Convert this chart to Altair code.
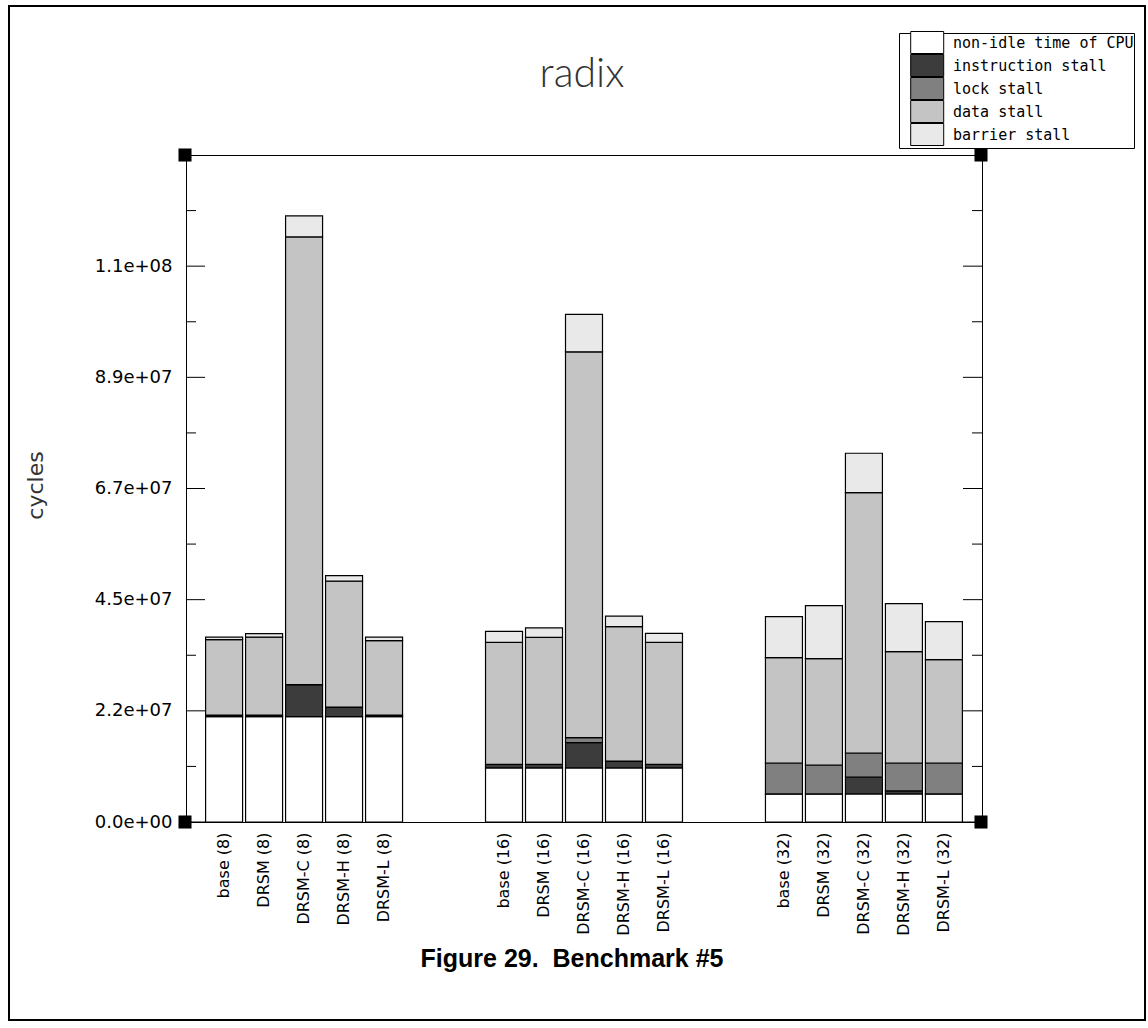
import altair as alt
import pandas as pd

# ---------------- data ----------------
categories = [
    "base (8)", "DRSM (8)", "DRSM-C (8)", "DRSM-H (8)", "DRSM-L (8)", "gap1", "gap2",
    "base (16)", "DRSM (16)", "DRSM-C (16)", "DRSM-H (16)", "DRSM-L (16)", "gap3", "gap4",
    "base (32)", "DRSM (32)", "DRSM-C (32)", "DRSM-H (32)", "DRSM-L (32)",
]
bar_names = [c for c in categories if not c.startswith("gap")]

components = ["non-idle time of CPU", "instruction stall", "lock stall", "data stall", "barrier stall"]
component_colors = ["#ffffff", "#3c3c3c", "#808080", "#c4c4c4", "#e9e9e9"]

nonidle = [2.11e7, 2.11e7, 2.11e7, 2.11e7, 2.11e7,
           1.085e7, 1.085e7, 1.085e7, 1.085e7, 1.085e7,
           0.561e7, 0.561e7, 0.561e7, 0.561e7, 0.561e7]
instr = [0.03e7, 0.03e7, 0.64e7, 0.19e7, 0.03e7,
         0.07e7, 0.07e7, 0.505e7, 0.135e7, 0.07e7,
         0.0, 0.0, 0.34e7, 0.06e7, 0.0]
lock = [0.0, 0.0, 0.0, 0.0, 0.0,
        0.0, 0.0, 0.10e7, 0.0, 0.0,
        0.62e7, 0.58e7, 0.48e7, 0.56e7, 0.62e7]
data_stall = [1.51e7, 1.56e7, 8.96e7, 2.52e7, 1.49e7,
              2.44e7, 2.54e7, 7.72e7, 2.69e7, 2.44e7,
              2.11e7, 2.13e7, 5.21e7, 2.23e7, 2.07e7]
barrier = [0.05e7, 0.07e7, 0.42e7, 0.11e7, 0.07e7,
           0.22e7, 0.19e7, 0.75e7, 0.21e7, 0.18e7,
           0.82e7, 1.06e7, 0.79e7, 0.96e7, 0.76e7]

y_max = 1.335e8
major_ticks = [0, 2.225e7, 4.45e7, 6.675e7, 8.9e7, 1.1125e8]
minor_ticks = [1.1125e7, 3.3375e7, 5.5625e7, 7.7875e7, 1.00125e8, 1.22375e8]

title_text = "radix"
y_title = "cycles"
caption_text = "Figure 29.\u00a0 Benchmark #5"

# ---------------- layout (styles) ----------------
W, H = 796, 667
FONT = "DejaVu Sans"
MONO = "DejaVu Sans Mono"

series = [nonidle, instr, lock, data_stall, barrier]
rows = []
for k, (comp, vals) in enumerate(zip(components, series)):
    for name, v in zip(bar_names, vals):
        rows.append({"cat": name, "component": comp, "k": k, "value": v})
df = pd.DataFrame(rows)

yscale = alt.Scale(domain=[0, y_max], nice=False, zero=True)

bars = alt.Chart(df).mark_bar(stroke="black", strokeWidth=1.2, opacity=1).encode(
    x=alt.X(
        "cat:N",
        sort=categories,
        scale=alt.Scale(domain=categories, paddingInner=0.075, paddingOuter=0.49),
        axis=alt.Axis(
            title=None,
            labelAngle=270,
            labelAlign="right",
            labelBaseline="middle",
            labelPadding=10,
            labelFont=FONT,
            labelFontSize=16,
            labelColor="black",
            labelExpr="slice(datum.label, 0, 3) == 'gap' ? '' : datum.label",
            ticks=False,
            domain=False,
        ),
    ),
    y=alt.Y(
        "value:Q",
        stack="zero",
        scale=yscale,
        axis=alt.Axis(
            values=major_ticks,
            labelExpr="replace(format(datum.value, '.1e'), regexp('e([+-])([0-9])$'), 'e$10$2')",
            labelFont=FONT,
            labelFontSize=18,
            labelColor="black",
            labelPadding=14,
            ticks=False,
            domain=False,
            grid=False,
            title=y_title,
            titleFont=FONT,
            titleFontSize=22,
            titleFontWeight="normal",
            titleColor="#333333",
            titleAngle=270,
            titleX=-151,
            titleY=330,
            titleAlign="center",
            titleBaseline="middle",
        ),
    ),
    color=alt.Color(
        "component:N",
        scale=alt.Scale(domain=components, range=component_colors),
        legend=alt.Legend(
            title=None,
            orient="none",
            legendX=713,
            legendY=-122,
            direction="vertical",
            symbolType="M0.25,-1.25H4V1.25H0.25Z",
            symbolSize=310,
            symbolStrokeColor="black",
            symbolStrokeWidth=1,
            symbolOpacity=1,
            labelFont=MONO,
            labelFontSize=15,
            labelColor="black",
            labelOffset=35,
            labelLimit=0,
            rowPadding=-4.5,
            padding=0,
            strokeColor="black",
            fillColor="white",
        ),
    ),
    order=alt.Order("k:Q", sort="ascending"),
)

tick_major = pd.DataFrame({"v": major_ticks})
tick_minor = pd.DataFrame({"v": minor_ticks})


def tick_layer(d, x0, x1):
    return alt.Chart(d).mark_rule(color="black", strokeWidth=1).encode(
        y=alt.Y("v:Q", scale=yscale),
        x=alt.value(x0),
        x2=alt.value(x1),
    )


ticks = [
    tick_layer(tick_major, 0, 19),
    tick_layer(tick_minor, 0, 10),
    tick_layer(tick_major, W - 19, W),
    tick_layer(tick_minor, W - 10, W),
]

one = pd.DataFrame({"t": [title_text], "c": [caption_text]})

corners = [
    alt.Chart(one).mark_square(size=170, color="black", opacity=1).encode(
        x=alt.value(cx), y=alt.value(cy)
    )
    for cx, cy in [(-1, 0), (W - 1, 0), (-1, H), (W - 1, H)]
]

title_mark = alt.Chart(one).mark_text(
    font="Lato", fontSize=41, fontWeight=300, color="#333333", baseline="alphabetic", align="center"
).encode(text="t:N", x=alt.value(W / 2 - 2), y=alt.value(-68))

caption_mark = alt.Chart(one).mark_text(
    font="Liberation Sans", fontSize=25, fontWeight="bold", color="black", baseline="alphabetic", align="center"
).encode(text="c:N", x=alt.value(386), y=alt.value(812))

frame = alt.Chart(one).mark_rect(fillOpacity=0, stroke="black", strokeWidth=2).encode(
    x=alt.value(-177), x2=alt.value(959), y=alt.value(-149), y2=alt.value(865)
)

chart = alt.layer(bars, *ticks, *corners, title_mark, caption_mark, frame).properties(
    width=W,
    height=H,
    autosize=alt.AutoSizeParams(type="none"),
    padding={"left": 186, "top": 155, "right": 166, "bottom": 206},
).configure(background="white").configure_view(stroke="black", strokeWidth=1)

chart.save("out.html", embed_options={"renderer": "svg", "actions": False})
